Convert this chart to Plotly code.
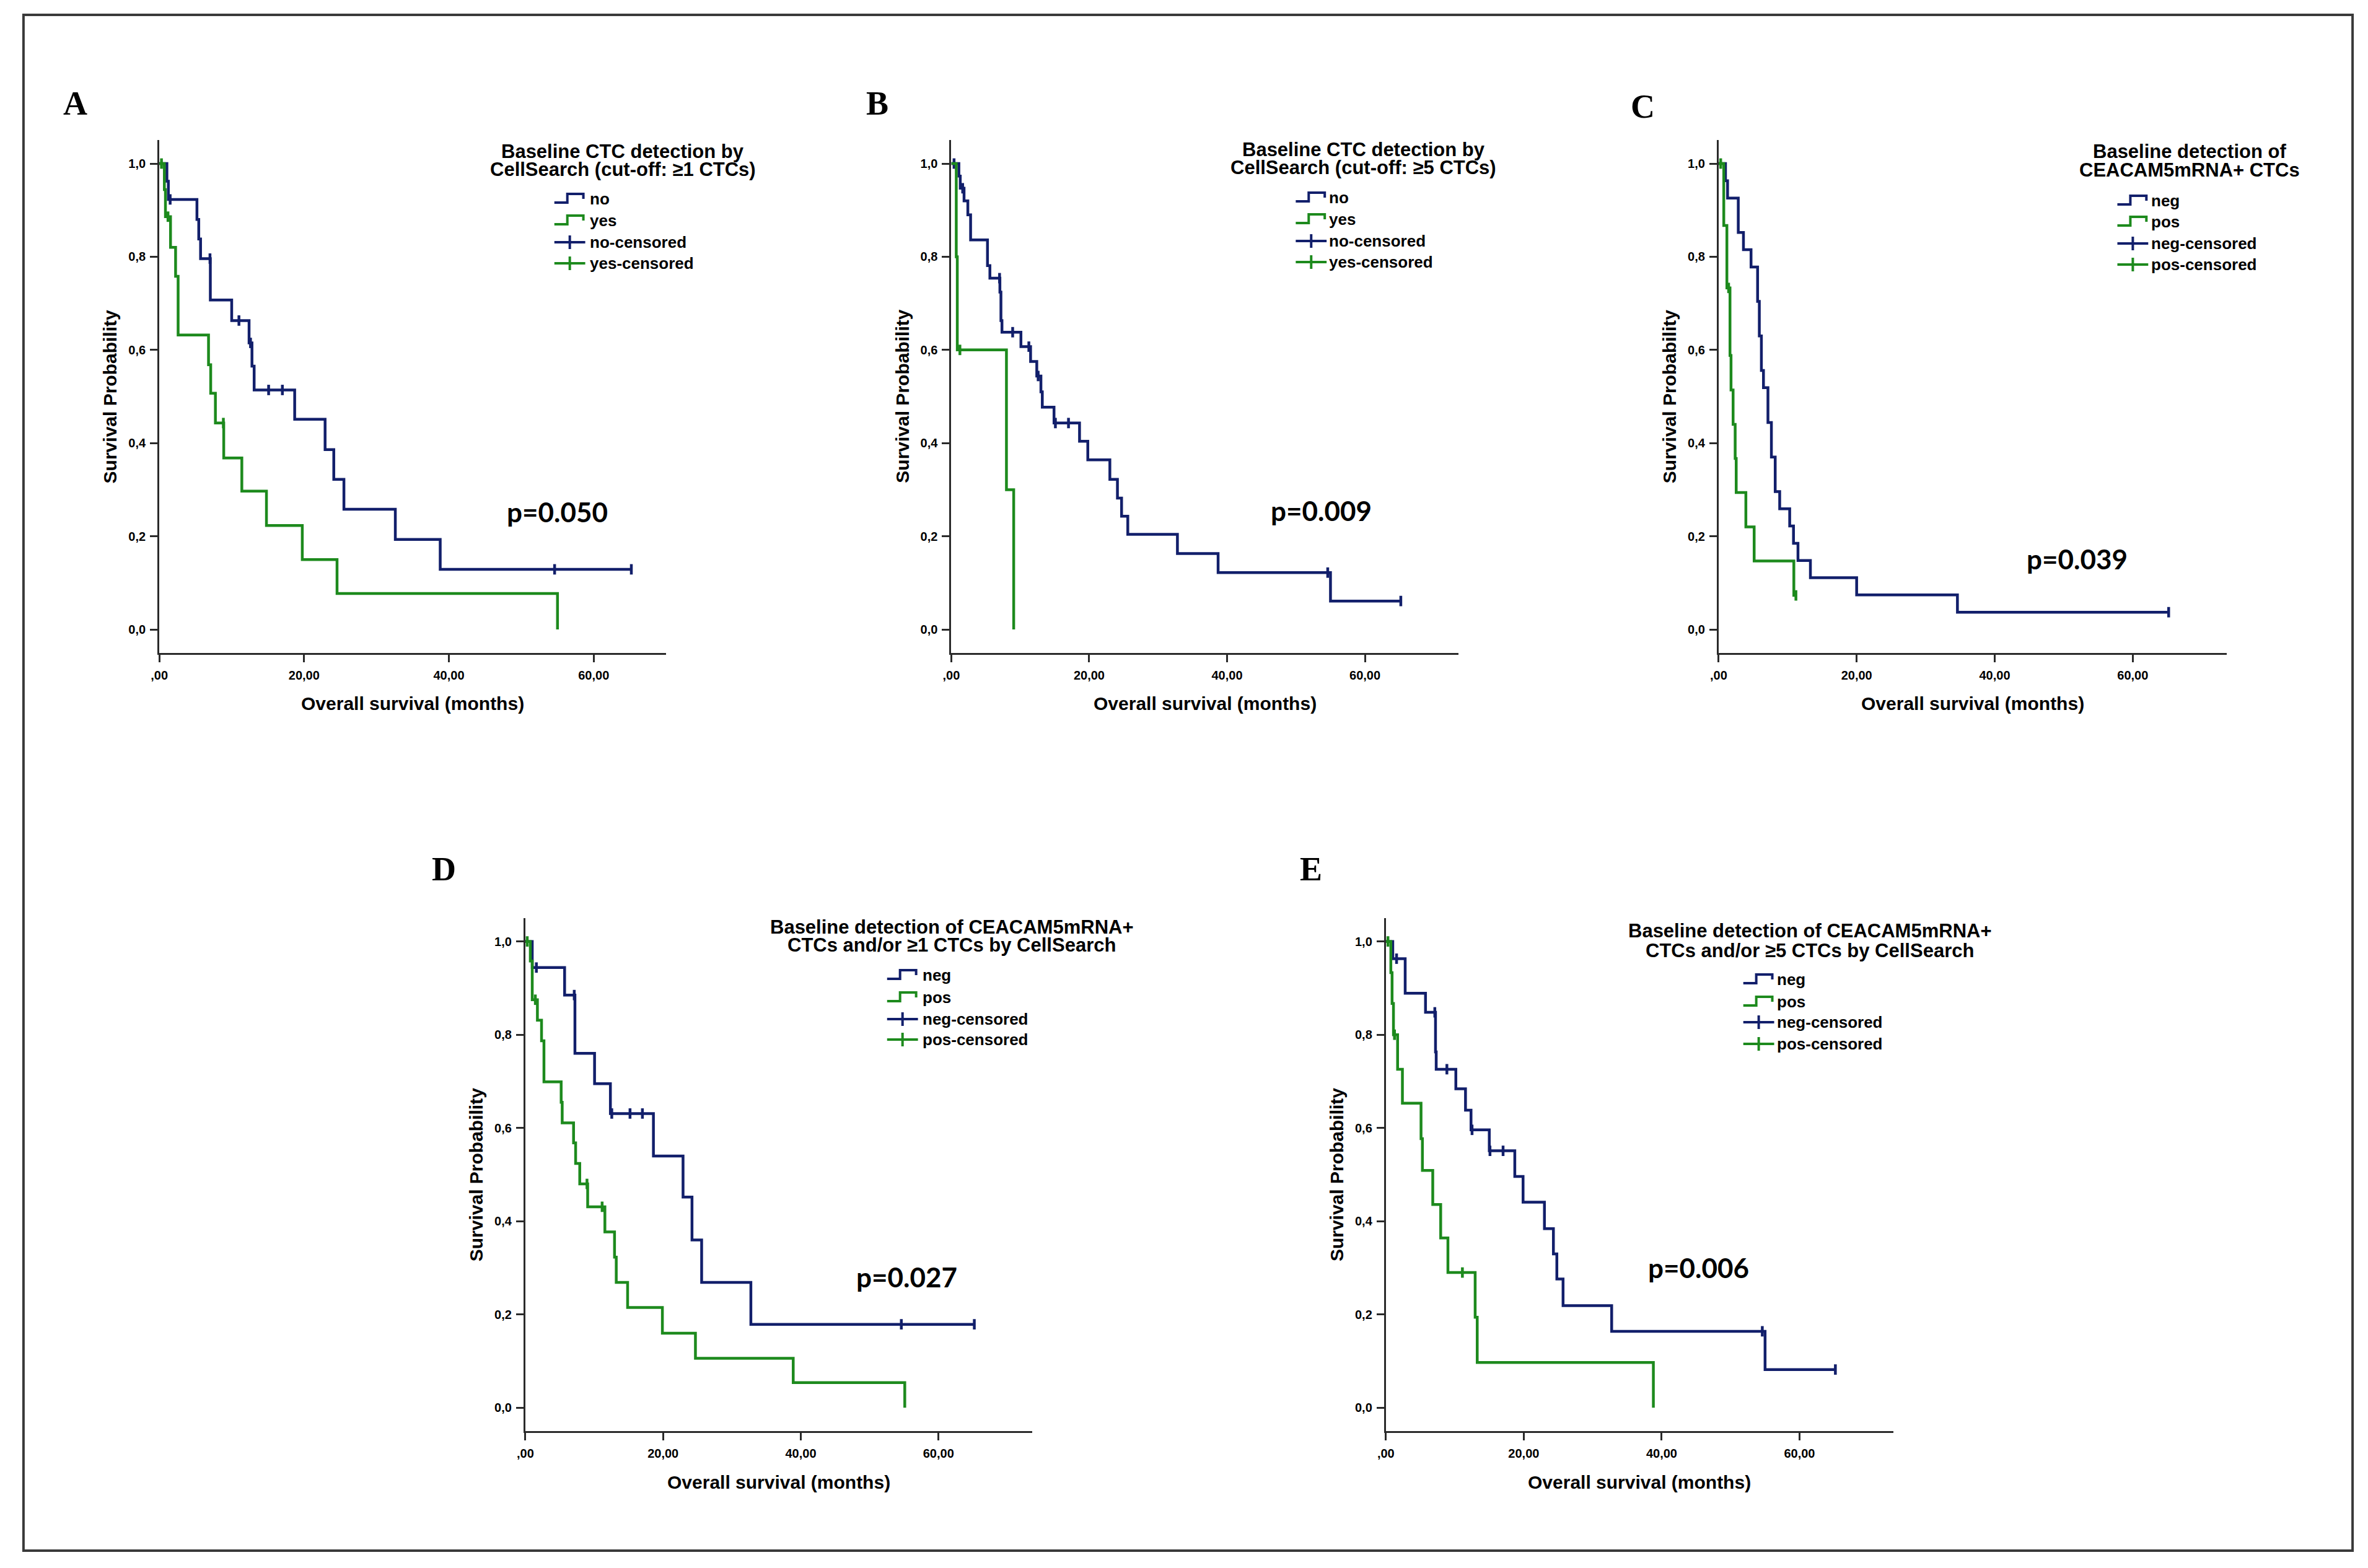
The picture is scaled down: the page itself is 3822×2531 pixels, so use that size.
import plotly.graph_objects as go

W, H = 3822, 2531

# ---------------- data ----------------
# Panel A: CellSearch cut-off >=1 CTCs
A_no_time = [1.05, 1.25, 5.2, 5.45, 5.7, 7.05, 10.0, 12.4, 12.8, 13.1, 18.7, 22.9, 24.1, 25.5, 32.6, 38.8]
A_no_surv = [0.962, 0.923, 0.880, 0.838, 0.796, 0.707, 0.663, 0.615, 0.565, 0.514, 0.451, 0.386, 0.322, 0.258, 0.193, 0.129]
A_no_cens = [1.5, 7.0, 11.0, 12.6, 15.1, 17.0, 54.6, 65.2]
A_yes_time = [0.7, 0.85, 1.55, 2.25, 2.6, 6.8, 7.1, 7.75, 8.9, 11.4, 14.8, 19.75, 24.55, 55.0]
A_yes_surv = [0.944, 0.886, 0.820, 0.758, 0.632, 0.568, 0.507, 0.443, 0.368, 0.297, 0.223, 0.150, 0.077, 0.0]
A_yes_cens = [0.3, 1.2, 8.85]

# Panel B: CellSearch cut-off >=5 CTCs
B_no_time = [1.1, 1.3, 1.85, 2.4, 2.8, 5.25, 5.6, 7.05, 7.2, 7.35, 10.1, 11.5, 12.4, 13.0, 13.2, 14.9,
             18.6, 19.8, 23.0, 24.1, 24.7, 25.6, 32.8, 38.7, 55.0]
B_no_surv = [0.973, 0.947, 0.920, 0.890, 0.836, 0.781, 0.754, 0.724, 0.663, 0.638, 0.607, 0.575, 0.544, 0.510,
             0.477, 0.443, 0.404, 0.364, 0.322, 0.282, 0.243, 0.204, 0.163, 0.122, 0.061]
B_no_cens = [0.4, 1.65, 7.0, 8.9, 11.25, 12.6, 15.1, 17.0, 54.6, 65.2]
B_yes_time = [0.72, 0.87, 8.0, 9.05]
B_yes_surv = [0.80, 0.60, 0.30, 0.0]
B_yes_cens = [1.25]

# Panel C: CEACAM5mRNA+ CTCs
C_neg_time = [1.0, 1.3, 2.85, 3.6, 4.7, 5.65, 5.9, 6.2, 6.5, 7.15, 7.65, 8.2, 8.85, 10.3, 10.85, 11.5, 13.3, 20.0, 34.6]
C_neg_surv = [0.963, 0.926, 0.852, 0.815, 0.778, 0.704, 0.630, 0.556, 0.519, 0.444, 0.370, 0.296, 0.259, 0.222,
              0.185, 0.148, 0.111, 0.074, 0.037]
C_neg_cens = [65.2]
C_pos_time = [0.75, 1.2, 1.65, 1.8, 2.1, 2.4, 2.55, 3.95, 5.15, 10.9]
C_pos_surv = [0.867, 0.733, 0.588, 0.514, 0.440, 0.367, 0.294, 0.220, 0.147, 0.073]
C_pos_cens = [0.3, 1.45, 11.2]

# Panel D: CEACAM5mRNA+ and/or >=1 CTCs
D_neg_time = [1.0, 5.7, 7.2, 10.05, 12.35, 18.6, 22.9, 24.2, 25.6, 32.75]
D_neg_surv = [0.944, 0.885, 0.760, 0.695, 0.631, 0.540, 0.452, 0.360, 0.269, 0.179]
D_neg_cens = [1.6, 7.1, 12.55, 15.2, 17.0, 54.6, 65.2]
D_pos_time = [0.72, 1.0, 1.75, 2.35, 2.7, 5.2, 5.35, 7.0, 7.3, 7.9, 9.05, 11.55, 12.95, 13.2, 14.85, 19.9,
              24.7, 38.9, 55.1]
D_pos_surv = [0.958, 0.875, 0.831, 0.787, 0.699, 0.655, 0.611, 0.568, 0.524, 0.480, 0.431, 0.377, 0.323, 0.269,
              0.215, 0.160, 0.106, 0.054, 0.0]
D_pos_cens = [0.27, 1.45, 8.95, 11.15]

# Panel E: CEACAM5mRNA+ and/or >=5 CTCs
E_neg_time = [1.0, 2.8, 5.75, 7.2, 7.3, 10.15, 11.55, 12.35, 15.0, 18.7, 19.9, 23.0, 24.3, 24.8, 25.7, 32.75, 55.0]
E_neg_surv = [0.963, 0.889, 0.848, 0.763, 0.726, 0.684, 0.638, 0.596, 0.551, 0.496, 0.441, 0.384, 0.330, 0.276,
              0.219, 0.164, 0.082]
E_neg_cens = [1.55, 7.1, 8.85, 12.5, 15.1, 17.0, 54.6, 65.2]
E_pos_time = [0.72, 0.9, 1.1, 1.7, 2.4, 5.1, 5.3, 6.8, 7.95, 9.0, 12.95, 13.25, 38.8]
E_pos_surv = [0.933, 0.867, 0.800, 0.726, 0.653, 0.577, 0.509, 0.436, 0.364, 0.290, 0.194, 0.097, 0.0]
E_pos_cens = [0.3, 1.25, 11.1]

panel_letters = ["A", "B", "C", "D", "E"]
p_values = ["p=0.050", "p=0.009", "p=0.039", "p=0.027", "p=0.006"]
legend_titles = [
    ["Baseline CTC detection by", "CellSearch (cut-off: \u22651 CTCs)"],
    ["Baseline CTC detection by", "CellSearch (cut-off: \u22655 CTCs)"],
    ["Baseline detection of", "CEACAM5mRNA+ CTCs"],
    ["Baseline detection of CEACAM5mRNA+", "CTCs and/or \u22651 CTCs by CellSearch"],
    ["Baseline detection of CEACAM5mRNA+", "CTCs and/or \u22655 CTCs by CellSearch"],
]
group_labels = [["no", "yes"], ["no", "yes"], ["neg", "pos"], ["neg", "pos"], ["neg", "pos"]]
x_tick_vals = [0, 20, 40, 60]
x_tick_text = [",00", "20,00", "40,00", "60,00"]
y_tick_vals = [0.0, 0.2, 0.4, 0.6, 0.8, 1.0]
y_tick_text = ["0,0", "0,2", "0,4", "0,6", "0,8", "1,0"]
x_max = [70.0, 73.6, 73.6, 73.6, 73.6]
x_title = "Overall survival (months)"
y_title = "Survival Probability"

series = [
    [(A_no_time, A_no_surv, A_no_cens), (A_yes_time, A_yes_surv, A_yes_cens)],
    [(B_no_time, B_no_surv, B_no_cens), (B_yes_time, B_yes_surv, B_yes_cens)],
    [(C_neg_time, C_neg_surv, C_neg_cens), (C_pos_time, C_pos_surv, C_pos_cens)],
    [(D_neg_time, D_neg_surv, D_neg_cens), (D_pos_time, D_pos_surv, D_pos_cens)],
    [(E_neg_time, E_neg_surv, E_neg_cens), (E_pos_time, E_pos_surv, E_pos_cens)],
]

# ---------------- styling / layout (pixel geometry) ----------------
BLUE = "#121f6b"
GREEN = "#1d8a1d"
COLORS = [BLUE, GREEN]
AX = "#2a2a2a"
SANS = "Liberation Sans, Arial, sans-serif"

# plot box per panel: (left, right, top_of_range, bottom_of_range) in px
boxes = [
    (244, 1065, 226.4, 1053.6),
    (1527, 2349, 226.4, 1053.6),
    (2770, 3593, 226.4, 1053.6),
    (837, 1658, 1482.0, 2310.0),
    (2231, 3053, 1482.0, 2310.0),
]
letter_pos = [(108, 167), (1407, 167), (2647, 172), (705, 1403), (2110, 1403)]
p_pos = [(889, 826), (2126, 824), (3351, 902), (1455, 2061), (2738, 2046)]
legend_geo = [
    # title center x, title line ys, glyph x0, text x, row ys
    (995, (244, 273), 884, 939, (321, 356, 391, 425)),
    (2195, (241, 271), 2085, 2137, (319, 354, 389, 423)),
    (3533, (244, 274), 3416, 3469, (324, 358, 393, 427)),
    (1528, (1496, 1525), 1423, 1478, (1574, 1610, 1645, 1678)),
    (2918, (1502, 1534), 2810, 2862, (1581, 1617, 1650, 1685)),
]


def px(x, y):
    return x / W, 1 - y / H


def surv_at(t, times, surv):
    s = 1.0
    for ti, si in zip(times, surv):
        if ti <= t:
            s = si
    return s


fig = go.Figure()
annotations = []
shapes = []
layout = {}
tick_font = dict(family=SANS, size=20, color="#000", weight="bold")

for k in range(5):
    n = "" if k == 0 else str(k + 1)
    xa, ya = "x" + n, "y" + n
    left, right, top, bottom = boxes[k]
    for g, (times, surv, cens) in enumerate(series[k]):
        end = max(times[-1], max(cens) if cens else 0)
        xs = [0.0] + list(times) + [end]
        ys = [1.0] + list(surv) + [surv[-1]]
        fig.add_trace(go.Scatter(
            x=xs, y=ys, mode="lines", xaxis=xa, yaxis=ya, showlegend=False,
            line=dict(color=COLORS[g], width=4.5, shape="hv"), cliponaxis=False,
            name=group_labels[k][g]))
        if cens:
            fig.add_trace(go.Scatter(
                x=list(cens), y=[surv_at(c, times, surv) for c in cens], mode="markers",
                xaxis=xa, yaxis=ya, showlegend=False, cliponaxis=False,
                marker=dict(symbol="line-ns", size=12, color=COLORS[g],
                            line=dict(color=COLORS[g], width=4.5)),
                name=group_labels[k][g] + "-censored"))

    x0f, _ = px(left, 0)
    x1f, _ = px(right, 0)
    _, y1f = px(0, top)
    _, y0f = px(0, bottom)
    layout["xaxis" + n] = dict(
        domain=[x0f, x1f], range=[0, x_max[k]], anchor=ya,
        tickmode="array", tickvals=x_tick_vals, ticktext=x_tick_text,
        ticks="outside", ticklen=12, tickwidth=3, tickcolor=AX,
        showline=True, linewidth=3, linecolor=AX, showgrid=False, zeroline=False,
        tickfont=tick_font, ticklabelstandoff=4)
    layout["yaxis" + n] = dict(
        domain=[y0f, y1f], range=[-0.05, 1.05], anchor=xa,
        tickmode="array", tickvals=y_tick_vals, ticktext=y_tick_text,
        ticks="outside", ticklen=12, tickwidth=3, tickcolor=AX,
        showline=True, linewidth=3, linecolor=AX, showgrid=False, zeroline=False,
        tickfont=tick_font, ticklabelstandoff=3)

    # axis titles
    cx = (left + right) / 2
    ax_, ay_ = px(cx, bottom + 82)
    annotations.append(dict(text=x_title, x=ax_, y=ay_, xref="paper", yref="paper",
                            xanchor="center", yanchor="middle", showarrow=False,
                            font=dict(family=SANS, size=30, color="#000", weight="bold")))
    bx_, by_ = px(left - 80, (top + bottom) / 2)
    annotations.append(dict(text=y_title, x=bx_, y=by_, xref="paper", yref="paper",
                            xanchor="center", yanchor="middle", showarrow=False, textangle=-90,
                            font=dict(family=SANS, size=30, color="#000", weight="bold")))
    # panel letter
    lx, ly = px(*letter_pos[k])
    annotations.append(dict(text=panel_letters[k], x=lx, y=ly, xref="paper", yref="paper",
                            xanchor="center", yanchor="middle", showarrow=False,
                            font=dict(family="Liberation Serif, Times New Roman, serif", size=54,
                                      color="#000", weight="bold")))
    # p-value
    qx, qy = px(*p_pos[k])
    annotations.append(dict(text=p_values[k], x=qx, y=qy, xref="paper", yref="paper",
                            xanchor="center", yanchor="middle", showarrow=False,
                            font=dict(family="Lato, Liberation Sans, sans-serif", size=44,
                                      color="#000", weight="bold")))
    # legend
    tcx, tys, gx0, tx, rows = legend_geo[k]
    for line, ty in zip(legend_titles[k], tys):
        ex, ey = px(tcx, ty)
        annotations.append(dict(text=line, x=ex, y=ey, xref="paper", yref="paper",
                                xanchor="center", yanchor="middle", showarrow=False,
                                font=dict(family=SANS, size=31, color="#000", weight="bold")))
    labels = [group_labels[k][0], group_labels[k][1],
              group_labels[k][0] + "-censored", group_labels[k][1] + "-censored"]
    gw = 50
    for r, (lab, ry) in enumerate(zip(labels, rows)):
        col = COLORS[r % 2]
        ex, ey = px(tx, ry)
        annotations.append(dict(text=lab, x=ex, y=ey, xref="paper", yref="paper",
                                xanchor="left", yanchor="middle", showarrow=False,
                                font=dict(family=SANS, size=26, color="#000", weight="bold")))
        if r < 2:
            pts = [(gx0, ry + 6), (gx0 + 21, ry + 6), (gx0 + 21, ry - 8), (gx0 + gw - 3, ry - 8),
                   (gx0 + gw - 3, ry)]
            path = "M " + " L ".join("%.5f,%.5f" % px(a, b) for a, b in pts)
            shapes.append(dict(type="path", path=path, xref="paper", yref="paper",
                               line=dict(color=col, width=4)))
        else:
            a0 = px(gx0, ry)
            a1 = px(gx0 + gw, ry)
            shapes.append(dict(type="line", x0=a0[0], y0=a0[1], x1=a1[0], y1=a1[1],
                               xref="paper", yref="paper", line=dict(color=col, width=4)))
            v0 = px(gx0 + gw / 2, ry - 11)
            v1 = px(gx0 + gw / 2, ry + 11)
            shapes.append(dict(type="line", x0=v0[0], y0=v0[1], x1=v1[0], y1=v1[1],
                               xref="paper", yref="paper", line=dict(color=col, width=4)))

# outer frame
f0 = px(24, 24)
f1 = px(3797, 2503)
shapes.append(dict(type="rect", x0=f0[0], y0=f1[1], x1=f1[0], y1=f0[1], xref="paper", yref="paper",
                   line=dict(color="#3a3a3a", width=4), fillcolor="rgba(0,0,0,0)"))

fig.update_layout(
    width=W, height=H, margin=dict(l=0, r=0, t=0, b=0),
    paper_bgcolor="white", plot_bgcolor="white",
    annotations=annotations, shapes=shapes, showlegend=False, **layout)

fig.write_html(
    "out.html", config={"displayModeBar": False},
    post_script=("document.documentElement.style.margin='0px';"
                 "document.body.style.margin='0px';document.body.style.padding='0px';"
                 "document.body.style.overflow='hidden';"
                 "var d=document.getElementById('{plot_id}');"
                 "d.style.position='absolute';d.style.left='0px';d.style.top='0px';"))
